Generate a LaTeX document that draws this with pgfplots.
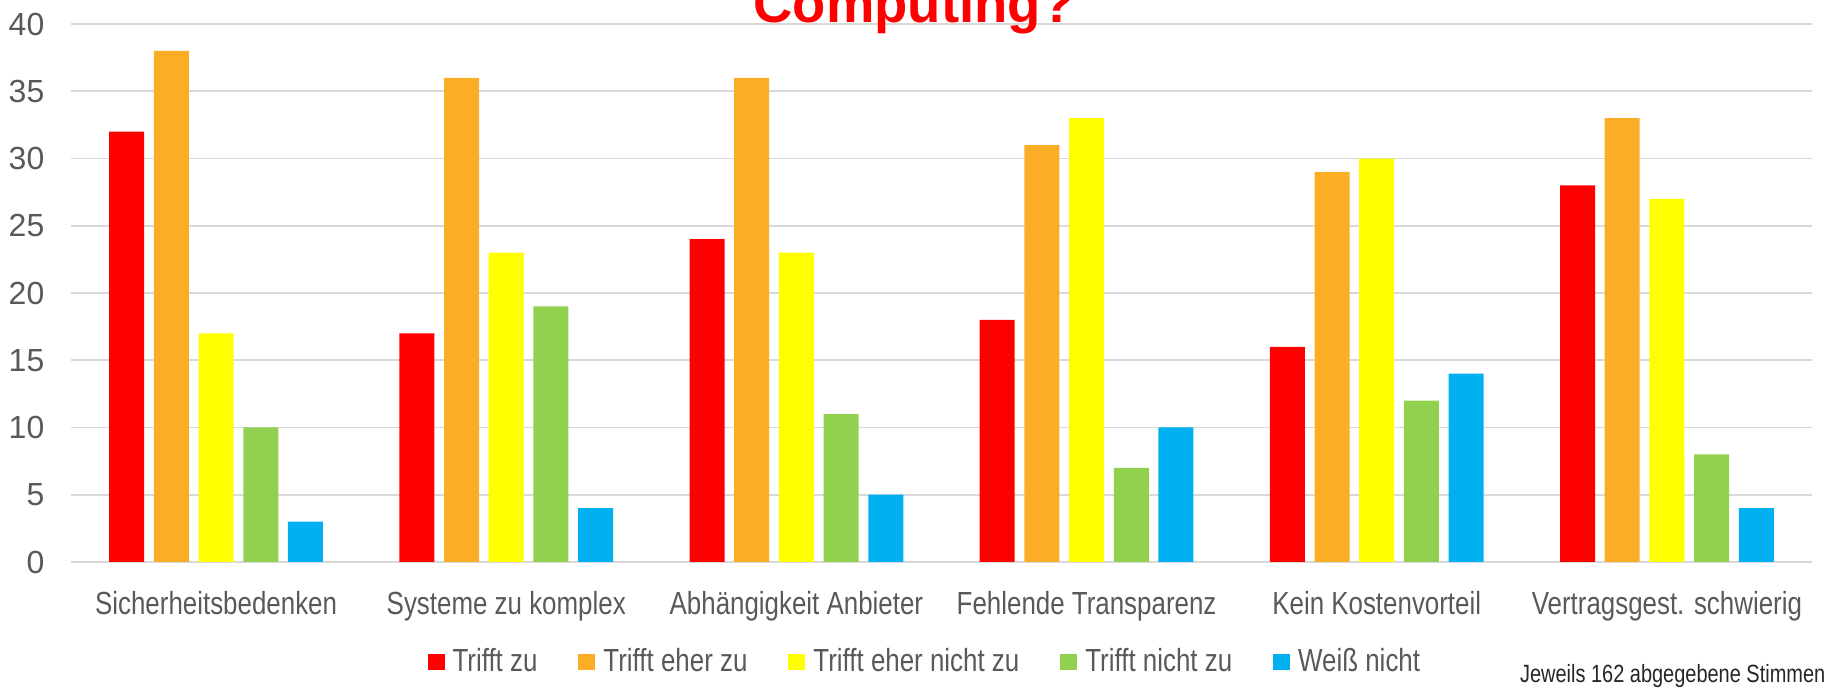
\documentclass[border=0pt]{standalone}
\usepackage{fontspec}
\setmainfont{Liberation Sans}
\newfontfamily\narrowfont[FakeStretch=0.81]{Liberation Sans}
\newfontfamily\footfont[FakeStretch=0.8]{Liberation Sans}
\usepackage{pgfplots}
\pgfplotsset{compat=1.18}
\definecolor{cred}{HTML}{FF0000}
\definecolor{corange}{HTML}{FBAD26}
\definecolor{cyellow}{HTML}{FFFF00}
\definecolor{cgreen}{HTML}{92D050}
\definecolor{cblue}{HTML}{00B0F0}
\definecolor{textgray}{HTML}{595959}
\definecolor{gridgray}{HTML}{D9D9D9}
\begin{document}
\begin{tikzpicture}
\path[use as bounding box] (0,0) rectangle (182.7mm,-68.8mm);
\begin{scope}
\clip (0,0) rectangle (182.7mm,-68.8mm);
\begin{axis}[
  at={(7.1mm,-56.2mm)}, anchor=south west,
  width=174.1mm, height=53.8mm, scale only axis,
  ybar=0.97mm, bar width=3.5mm,
  xmin=-0.5, xmax=5.5, ymin=0, ymax=40,
  xtick={0,1,2,3,4,5},
  xticklabels={Sicherheitsbedenken, Systeme zu komplex, Abhängigkeit Anbieter, Fehlende Transparenz, Kein Kostenvorteil, Vertragsgest. schwierig},
  ytick={0,5,...,40},
  axis line style={draw=none},
  tick style={draw=none},
  ymajorgrids, grid style={color=gridgray, line width=0.5pt},
  /pgf/number format/assume math mode=true,
  yticklabel style={anchor=east, inner sep=0pt, xshift=-2.6mm, font=\fontsize{9.1}{11}\selectfont, text=textgray},
  xticklabel style={anchor=north, inner sep=0pt, yshift=-1.4mm, font=\narrowfont\fontsize{9.1}{11}\selectfont, text=textgray},
  legend columns=5,
  legend image code/.code={\fill[#1] (0mm,-0.8mm) rectangle (1.7mm,0.8mm); \path (2.1mm,0mm);},
  legend style={at={(0.491,-0.186)}, anchor=center, draw=none, fill=none,
    font=\narrowfont\fontsize{9.1}{11}\selectfont, text=textgray,
    nodes={inner sep=0.4mm},
    /tikz/every even column/.append style={column sep=3.7mm}},
]
\addplot[fill=cred, draw=none] coordinates {(0,32) (1,17) (2,24) (3,18) (4,16) (5,28)};
\addplot[fill=corange, draw=none] coordinates {(0,38) (1,36) (2,36) (3,31) (4,29) (5,33)};
\addplot[fill=cyellow, draw=none] coordinates {(0,17) (1,23) (2,23) (3,33) (4,30) (5,27)};
\addplot[fill=cgreen, draw=none] coordinates {(0,10) (1,19) (2,11) (3,7) (4,12) (5,8)};
\addplot[fill=cblue, draw=none] coordinates {(0,3) (1,4) (2,5) (3,10) (4,14) (5,4)};
\addlegendentry{Trifft zu}
\addlegendentry{Trifft eher zu}
\addlegendentry{Trifft eher nicht zu}
\addlegendentry{Trifft nicht zu}
\addlegendentry{Weiß nicht}
\end{axis}
\node[overlay, anchor=base, inner sep=0pt, text=cred, font=\bfseries\fontsize{15.5}{17}\selectfont] at (91.4mm,-2.25mm) {Computing?};
\node[overlay, anchor=base east, inner sep=0pt, text=black!85, font=\footfont\fontsize{7.1}{9}\selectfont] at (182.6mm,-68.3mm) {Jeweils 162 abgegebene Stimmen};
\end{scope}
\end{tikzpicture}
\end{document}
